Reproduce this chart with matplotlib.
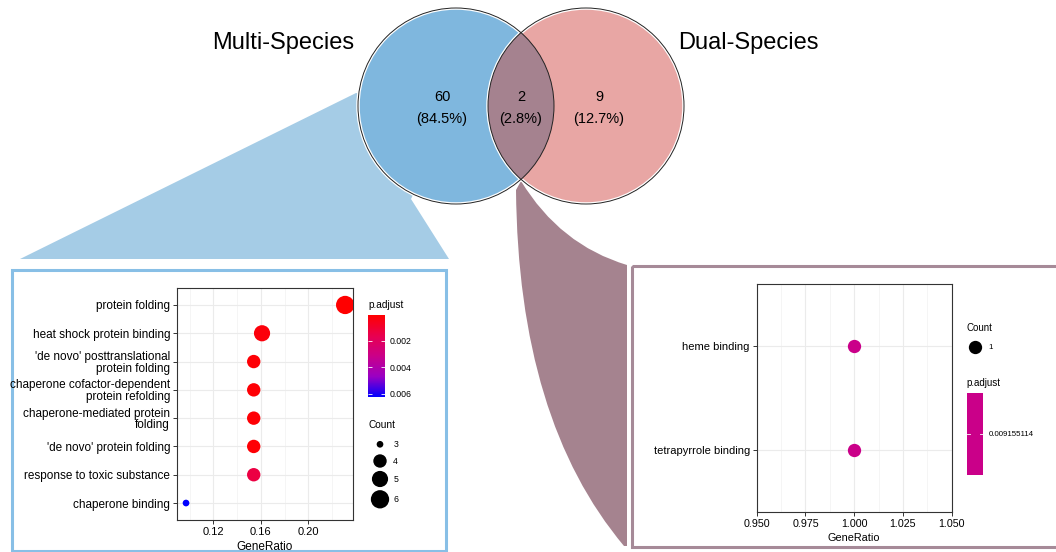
import numpy as np
import matplotlib.pyplot as plt
from matplotlib.patches import Circle, Polygon, Rectangle, PathPatch
from matplotlib.path import Path
from matplotlib.colors import LinearSegmentedColormap, Normalize

plt.rcParams['font.family'] = ['Liberation Sans', 'DejaVu Sans']

# venn: only multi, shared, only dual
venn_names = ["Multi-Species", "Dual-Species"]
venn_counts = [60, 2, 9]

# enriched terms, multi-species only (top to bottom)
multi_terms = ["protein folding",
               "heat shock protein binding",
               "'de novo' posttranslational\nprotein folding",
               "chaperone cofactor-dependent\nprotein refolding",
               "chaperone-mediated protein\nfolding",
               "'de novo' protein folding",
               "response to toxic substance",
               "chaperone binding"]
multi_ratio = [0.231, 0.161, 0.154, 0.154, 0.154, 0.154, 0.154, 0.097]
multi_count = [6, 5, 4, 4, 4, 4, 4, 3]
multi_padj = [0.00008, 0.0003, 0.0002, 0.0002, 0.0002, 0.0002, 0.0014, 0.00625]

# enriched terms, shared (top to bottom)
dual_terms = ["heme binding", "tetrapyrrole binding"]
dual_ratio = [1.0, 1.0]
dual_count = [1, 1]
dual_padj = [0.009155114, 0.009155114]

# red -> blue gradient (as ggplot, through Lab space)
cmap = LinearSegmentedColormap.from_list(
    "padj", ["#FF0000", "#E8004F", "#CA0089", "#9A00C3", "#0000FF"])


def dot_size(c):
    # count -> marker area, diameter in px
    d = 6.7 + 11.6 * np.sqrt((np.asarray(c, float) - 3) / 3)
    return (d * 0.72) ** 2


W, H = 1056, 552
fig = plt.figure(figsize=(W / 100, H / 100), dpi=100)
bg = fig.add_axes([0, 0, 1, 1])
bg.set_xlim(0, W)
bg.set_ylim(H, 0)
bg.axis('off')


def px_axes(x0, y0, x1, y1):
    return fig.add_axes([x0 / W, 1 - y1 / H, (x1 - x0) / W, (y1 - y0) / H])


# zoom shapes
bg.add_patch(Polygon([(20, 259), (449, 259), (411, 199), (456, 106), (356, 93)],
                     closed=True, fc='#A5CCE6', ec='none', zorder=1))
verts = [(521, 181), (560, 245), (627, 265), (627, 546), (624, 546),
         (518, 420), (516, 190), (521, 181)]
codes = [Path.MOVETO, Path.CURVE3, Path.CURVE3, Path.LINETO, Path.LINETO,
         Path.CURVE3, Path.CURVE3, Path.CLOSEPOLY]
bg.add_patch(PathPatch(Path(verts, codes), fc='#A5838F', ec='none', zorder=1))

# venn circles
cy, r = 106, 98
left_c = Circle((456, cy), r, fc='#7FB7DE', ec='white', lw=2.5, zorder=2)
right_c = Circle((586, cy), r, fc='#E8A6A4', ec='white', lw=2.5, zorder=2)
bg.add_patch(left_c)
bg.add_patch(right_c)
lens = Circle((456, cy), r, fc='#A5828F', ec='none', zorder=3)
bg.add_patch(lens)
lens.set_clip_path(Circle((586, cy), r, transform=bg.transData))
for cx in [456, 586]:
    bg.add_patch(Circle((cx, cy), r, fc='none', ec='#222222', lw=0.7, zorder=4))

total = sum(venn_counts)
for x, n in zip([442, 521, 599], venn_counts):
    bg.text(x, 97, str(n), ha='center', va='center', fontsize=10.5, zorder=5)
    bg.text(x, 119, "(%.1f%%)" % (100 * n / total), ha='center', va='center',
            fontsize=10.5, zorder=5)
bg.text(283, 49, venn_names[0], ha='center', va='baseline', fontsize=17)
bg.text(748, 49, venn_names[1], ha='center', va='baseline', fontsize=17)

# frames
bg.add_patch(Rectangle((11.5, 270), 434, 281, fill=False, ec='#88BFE6', lw=2.2))
bg.add_patch(Rectangle((631.5, 265.5), 440, 281.5, fill=False, ec='#A68A98', lw=2.2))


def style_axes(ax, fs_y, fs_x):
    ax.set_axisbelow(True)
    ax.grid(which='major', color='#EBEBEB', lw=0.8)
    ax.grid(which='minor', axis='x', color='#F2F2F2', lw=0.5)
    ax.tick_params(which='minor', length=0)
    ax.tick_params(which='major', length=3, width=0.7, color='#333333', pad=2)
    ax.tick_params(axis='y', labelsize=fs_y)
    ax.tick_params(axis='x', labelsize=fs_x)
    for sp in ax.spines.values():
        sp.set_color('#333333')
        sp.set_linewidth(0.8)


# left dot plot
ax1 = px_axes(177, 288, 353, 520)
n1 = len(multi_terms)
y1 = np.arange(n1, 0, -1)
norm1 = Normalize(min(multi_padj), max(multi_padj))
sc1 = ax1.scatter(multi_ratio, y1, s=dot_size(multi_count), c=multi_padj,
                  cmap=cmap, norm=norm1, linewidths=0, zorder=3)
ax1.set_xlim(0.0894, 0.2376)
ax1.set_ylim(0.4, n1 + 0.6)
ax1.set_yticks(y1)
ax1.set_yticklabels(multi_terms, linespacing=0.95)
ax1.set_xticks([0.12, 0.16, 0.20])
ax1.set_xticklabels(['0.12', '0.16', '0.20'])
ax1.set_xticks([0.10, 0.14, 0.18, 0.22], minor=True)
style_axes(ax1, 8.5, 8)
ax1.set_xlabel('GeneRatio', fontsize=8.5, labelpad=3)

cax = px_axes(368.3, 315, 385, 397.3)
cb = fig.colorbar(sc1, cax=cax)
cax.invert_yaxis()
cb.set_ticks([0.002, 0.004, 0.006])
cb.set_ticklabels(['0.002', '0.004', '0.006'])
cb.outline.set_visible(False)
cax.tick_params(labelsize=6.3, length=3, width=0.6, direction='in', color='white',
                left=True, right=True, pad=3.6)
bg.text(368.3, 305, 'p.adjust', fontsize=7.3, va='center')
bg.text(368.3, 425, 'Count', fontsize=7.3, va='center')
leg_counts = sorted(set(multi_count))
leg_y = [444.3, 461, 479, 499.3]
bg.scatter([380] * len(leg_counts), leg_y, s=dot_size(leg_counts), c='black',
           linewidths=0, zorder=5)
for c, yy in zip(leg_counts, leg_y):
    bg.text(393.3, yy, str(c), fontsize=6.3, va='center')

# right dot plot
ax2 = px_axes(756.7, 284, 951.7, 511.7)
n2 = len(dual_terms)
y2 = np.arange(n2, 0, -1)
mid_col = cmap(0.5)
ax2.scatter(dual_ratio, y2, s=(13.3 * 0.72) ** 2, color=mid_col, linewidths=0, zorder=3)
ax2.set_xlim(0.95, 1.05)
ax2.set_ylim(0.4, n2 + 0.6)
ax2.set_yticks(y2)
ax2.set_yticklabels(dual_terms)
ax2.set_xticks([0.95, 0.975, 1.0, 1.025, 1.05])
ax2.set_xticklabels(['0.950', '0.975', '1.000', '1.025', '1.050'])
ax2.set_xticks([0.9625, 0.9875, 1.0125, 1.0375], minor=True)
style_axes(ax2, 8, 7.7)
ax2.set_xlabel('GeneRatio', fontsize=7.8, labelpad=3)

bg.text(966.7, 327.7, 'Count', fontsize=7, va='center')
bg.scatter([975], [347.3], s=(13.3 * 0.72) ** 2, c='black', linewidths=0, zorder=5)
bg.text(988.3, 347.3, str(dual_count[0]), fontsize=5.7, va='center')
bg.text(966.7, 382.7, 'p.adjust', fontsize=7, va='center')
bg.add_patch(Rectangle((966.7, 392.7), 16, 82.3, fc=mid_col, ec='none', zorder=4))
bg.plot([966.7, 969.7], [434, 434], color='white', lw=0.6, zorder=5)
bg.plot([979.7, 982.7], [434, 434], color='white', lw=0.6, zorder=5)
bg.text(988.3, 434, str(dual_padj[0]), fontsize=5.7, va='center')

fig.savefig('out.png', dpi=100)
